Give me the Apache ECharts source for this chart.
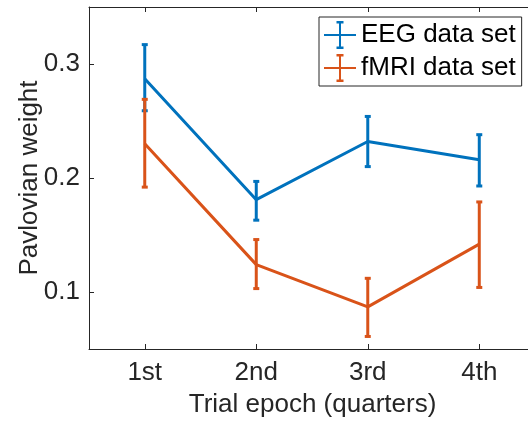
<!DOCTYPE html>
<html>
<head>
<meta charset="utf-8">
<script src="https://cdn.jsdelivr.net/npm/echarts@6/dist/echarts.min.js"></script>
<style>html,body{margin:0;padding:0;background:#fff}#c{width:528px;height:426px}</style>
</head>
<body>
<div id="c"></div>
<script>
var categories = ['1st', '2nd', '3rd', '4th'];
var eegMean = [0.287, 0.181, 0.232, 0.216];
var eegLow  = [0.259, 0.163, 0.210, 0.193];
var eegHigh = [0.317, 0.197, 0.254, 0.238];
var fmriMean = [0.230, 0.124, 0.087, 0.142];
var fmriLow  = [0.192, 0.103, 0.061, 0.104];
var fmriHigh = [0.269, 0.146, 0.112, 0.179];
var yTicks = [0.1, 0.2, 0.3];
var seriesNames = ['EEG data set', 'fMRI data set'];

var BLUE = '#0072BD', ORANGE = '#D95319', AX = '#262626';
var FONT = '"Liberation Sans", Arial, Helvetica, sans-serif';
var FS = 26;
var xPos = categories.map(function (c, i) { return i + 1; });

function lineData(vals) { return vals.map(function (v, i) { return [xPos[i], v]; }); }
function errData(lo, hi) { return lo.map(function (v, i) { return [xPos[i], v, hi[i]]; }); }

function errRender(color) {
  return function (params, api) {
    var x = api.value(0);
    var p1 = api.coord([x, api.value(1)]);
    var p2 = api.coord([x, api.value(2)]);
    var hw = 3;
    var st = { stroke: color, lineWidth: 3 };
    return {
      type: 'group',
      children: [
        { type: 'line', shape: { x1: p1[0], y1: p1[1], x2: p2[0], y2: p2[1] }, style: st },
        { type: 'line', shape: { x1: p1[0] - hw, y1: p1[1], x2: p1[0] + hw, y2: p1[1] }, style: st },
        { type: 'line', shape: { x1: p2[0] - hw, y1: p2[1], x2: p2[0] + hw, y2: p2[1] }, style: st }
      ]
    };
  };
}

var icon = 'path://M0,13h32v2h-32z M15,1h2v26h-2z M12.5,0h7v2.5h-7z M12.5,25.5h7v2.5h-7z';
var xmin = 0.5, xmax = 4.437;

var chart = echarts.init(document.getElementById('c'), null, { renderer: 'canvas' });
chart.setOption({
  animation: false,
  backgroundColor: '#fff',
  grid: { left: 89, right: 0, top: 7, bottom: 77, containLabel: false },
  legend: {
    orient: 'vertical',
    left: 319, top: 17,
    padding: [4, 6, 4, 5],
    itemWidth: 32, itemHeight: 28, itemGap: 5,
    borderColor: AX, borderWidth: 1, backgroundColor: '#fff',
    textStyle: { fontFamily: FONT, fontSize: FS, color: '#000' },
    data: [
      { name: seriesNames[0], icon: icon },
      { name: seriesNames[1], icon: icon }
    ]
  },
  xAxis: [{
    type: 'value', min: xmin, max: xmax, position: 'bottom',
    axisLine: { show: true, lineStyle: { color: AX, width: 1 } },
    axisTick: { show: true, inside: true, length: 5, lineStyle: { color: AX }, customValues: xPos },
    axisLabel: {
      show: true, margin: 11, fontFamily: FONT, fontSize: FS, color: AX, customValues: xPos,
      formatter: function (v) { return categories[Math.round(v) - 1] || ''; }
    },
    splitLine: { show: false },
    name: 'Trial epoch (quarters)', nameLocation: 'middle', nameGap: 43, nameMoveOverlap: false,
    nameTextStyle: { fontFamily: FONT, fontSize: FS, color: AX, padding: [0, 0, 0, 8] }
  }, {
    type: 'value', min: xmin, max: xmax, position: 'top',
    axisLine: { show: true, lineStyle: { color: AX, width: 1 } },
    axisTick: { show: true, inside: true, length: 5, lineStyle: { color: AX }, customValues: xPos },
    axisLabel: { show: false },
    splitLine: { show: false }
  }],
  yAxis: {
    type: 'value', min: 0.05, max: 0.35,
    axisLine: { show: true, lineStyle: { color: AX, width: 1 } },
    axisTick: { show: true, inside: true, length: 5, lineStyle: { color: AX }, customValues: yTicks },
    axisLabel: {
      margin: 9, fontFamily: FONT, fontSize: FS, color: AX, customValues: yTicks,
      formatter: function (v) { return v.toFixed(1); }
    },
    splitLine: { show: false },
    name: 'Pavlovian weight', nameLocation: 'middle', nameGap: 46, nameMoveOverlap: false,
    nameTextStyle: { fontFamily: FONT, fontSize: FS, color: AX }
  },
  series: [
    { name: seriesNames[0], type: 'line', data: lineData(eegMean), symbol: 'none',
      lineStyle: { color: BLUE, width: 3 }, itemStyle: { color: BLUE }, z: 3 },
    { name: seriesNames[0] + ' err', type: 'custom', data: errData(eegLow, eegHigh),
      renderItem: errRender(BLUE), encode: { x: 0, y: [1, 2] }, z: 3 },
    { name: seriesNames[1], type: 'line', data: lineData(fmriMean), symbol: 'none',
      lineStyle: { color: ORANGE, width: 3 }, itemStyle: { color: ORANGE }, z: 4 },
    { name: seriesNames[1] + ' err', type: 'custom', data: errData(fmriLow, fmriHigh),
      renderItem: errRender(ORANGE), encode: { x: 0, y: [1, 2] }, z: 4 }
  ]
});
</script>
</body>
</html>
